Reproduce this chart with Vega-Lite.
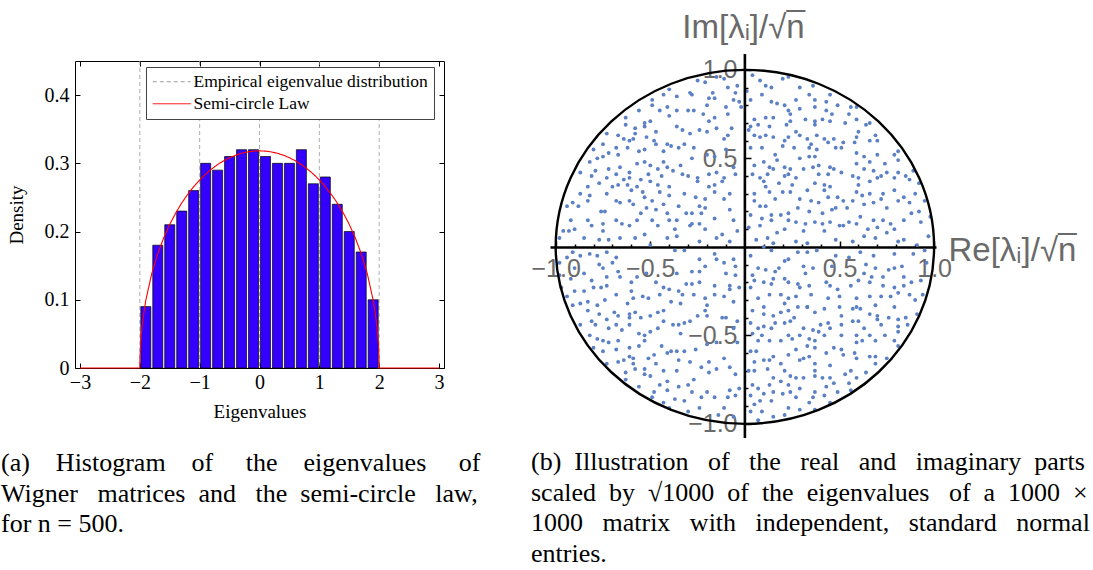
{
"$schema": "https://vega.github.io/schema/vega-lite/v6.json",
"padding": {"top": 11, "left": 0, "right": 0, "bottom": 0},
"background": "white",
"bounds": "flush",
"spacing": 106,
"config": {"view": {"stroke": null}, "axis": {"labelFlush": false, "labelOverlap": false, "grid": false}},
"datasets": {
"hist": [{"center":-1.9,"density":0.09},{"center":-1.7,"density":0.18},{"center":-1.5,"density":0.21},{"center":-1.3,"density":0.23},{"center":-1.1,"density":0.26},{"center":-0.9,"density":0.30},{"center":-0.7,"density":0.29},{"center":-0.5,"density":0.31},{"center":-0.3,"density":0.32},{"center":-0.1,"density":0.32},{"center":0.1,"density":0.31},{"center":0.3,"density":0.30},{"center":0.5,"density":0.30},{"center":0.7,"density":0.32},{"center":0.9,"density":0.27},{"center":1.1,"density":0.28},{"center":1.3,"density":0.24},{"center":1.5,"density":0.20},{"center":1.7,"density":0.17},{"center":1.9,"density":0.10}],
"grid": [{"x":-2,"series":"Empirical eigenvalue distribution"},{"x":-1,"series":"Empirical eigenvalue distribution"},{"x":0,"series":"Empirical eigenvalue distribution"},{"x":1,"series":"Empirical eigenvalue distribution"},{"x":2,"series":"Empirical eigenvalue distribution"}],
"semicircle": [{"x":-3,"y":0,"series":"Semi-circle Law"},{"x":-2,"y":0,"series":"Semi-circle Law"},{"x":-1.999,"y":0.0101,"series":"Semi-circle Law"},{"x":-1.99,"y":0.0318,"series":"Semi-circle Law"},{"x":-1.97,"y":0.0549,"series":"Semi-circle Law"},{"x":-1.95,"y":0.0707,"series":"Semi-circle Law"},{"x":-1.9,"y":0.0994,"series":"Semi-circle Law"},{"x":-1.8,"y":0.1387,"series":"Semi-circle Law"},{"x":-1.7,"y":0.1677,"series":"Semi-circle Law"},{"x":-1.6,"y":0.1910,"series":"Semi-circle Law"},{"x":-1.5,"y":0.2105,"series":"Semi-circle Law"},{"x":-1.4,"y":0.2273,"series":"Semi-circle Law"},{"x":-1.3,"y":0.2419,"series":"Semi-circle Law"},{"x":-1.2,"y":0.2546,"series":"Semi-circle Law"},{"x":-1.1,"y":0.2658,"series":"Semi-circle Law"},{"x":-1.0,"y":0.2757,"series":"Semi-circle Law"},{"x":-0.9,"y":0.2843,"series":"Semi-circle Law"},{"x":-0.8,"y":0.2917,"series":"Semi-circle Law"},{"x":-0.7,"y":0.2982,"series":"Semi-circle Law"},{"x":-0.6,"y":0.3037,"series":"Semi-circle Law"},{"x":-0.5,"y":0.3082,"series":"Semi-circle Law"},{"x":-0.4,"y":0.3119,"series":"Semi-circle Law"},{"x":-0.3,"y":0.3147,"series":"Semi-circle Law"},{"x":-0.2,"y":0.3167,"series":"Semi-circle Law"},{"x":-0.1,"y":0.3179,"series":"Semi-circle Law"},{"x":0,"y":0.3183,"series":"Semi-circle Law"},{"x":0.1,"y":0.3179,"series":"Semi-circle Law"},{"x":0.2,"y":0.3167,"series":"Semi-circle Law"},{"x":0.3,"y":0.3147,"series":"Semi-circle Law"},{"x":0.4,"y":0.3119,"series":"Semi-circle Law"},{"x":0.5,"y":0.3082,"series":"Semi-circle Law"},{"x":0.6,"y":0.3037,"series":"Semi-circle Law"},{"x":0.7,"y":0.2982,"series":"Semi-circle Law"},{"x":0.8,"y":0.2917,"series":"Semi-circle Law"},{"x":0.9,"y":0.2843,"series":"Semi-circle Law"},{"x":1.0,"y":0.2757,"series":"Semi-circle Law"},{"x":1.1,"y":0.2658,"series":"Semi-circle Law"},{"x":1.2,"y":0.2546,"series":"Semi-circle Law"},{"x":1.3,"y":0.2419,"series":"Semi-circle Law"},{"x":1.4,"y":0.2273,"series":"Semi-circle Law"},{"x":1.5,"y":0.2105,"series":"Semi-circle Law"},{"x":1.6,"y":0.1910,"series":"Semi-circle Law"},{"x":1.7,"y":0.1677,"series":"Semi-circle Law"},{"x":1.8,"y":0.1387,"series":"Semi-circle Law"},{"x":1.9,"y":0.0994,"series":"Semi-circle Law"},{"x":1.95,"y":0.0707,"series":"Semi-circle Law"},{"x":1.97,"y":0.0549,"series":"Semi-circle Law"},{"x":1.99,"y":0.0318,"series":"Semi-circle Law"},{"x":1.999,"y":0.0101,"series":"Semi-circle Law"},{"x":2,"y":0,"series":"Semi-circle Law"},{"x":3,"y":0,"series":"Semi-circle Law"}],
"circle": [{"re":0,"im":0}],
"vaxis": [{"re":0,"lo":-1.08,"hi":1.09}],
"eig": [
{"re":-0.49,"im":0.83},{"re":-0.43,"im":0.86},{"re":-0.40,"im":0.89},{"re":-0.49,"im":0.80},{"re":-0.45,"im":0.77},{"re":-0.41,"im":0.79},{"re":-0.40,"im":0.74},{"re":-0.56,"im":0.77},{"re":-0.63,"im":0.73},{"re":-0.53,"im":0.70},{"re":-0.53,"im":0.68},{"re":-0.50,"im":0.71},{"re":-0.47,"im":0.65},{"re":-0.58,"im":0.67},{"re":-0.58,"im":0.64},{"re":-0.63,"im":0.69},{"re":-0.73,"im":0.64},{"re":-0.67,"im":0.63},{"re":-0.64,"im":0.61},{"re":-0.61,"im":0.60},{"re":-0.59,"im":0.61},{"re":-0.52,"im":0.62},{"re":-0.48,"im":0.60},{"re":-0.47,"im":0.58},{"re":-0.41,"im":0.58},{"re":-0.39,"im":0.57},{"re":-0.68,"im":0.56},{"re":-0.62,"im":0.56},{"re":-0.56,"im":0.54},{"re":-0.53,"im":0.55},{"re":-0.75,"im":0.58},{"re":-0.80,"im":0.55},{"re":-0.72,"im":0.53},{"re":-0.75,"im":0.51},{"re":-0.78,"im":0.50},{"re":-0.67,"im":0.52},{"re":-0.57,"im":0.47},{"re":-0.53,"im":0.48},{"re":-0.50,"im":0.46},{"re":-0.43,"im":0.54},{"re":-0.43,"im":0.48},{"re":-0.46,"im":0.44},{"re":-0.41,"im":0.45},{"re":-0.38,"im":0.43},{"re":-0.82,"im":0.48},{"re":-0.87,"im":0.42},{"re":-0.79,"im":0.43},{"re":-0.72,"im":0.44},{"re":-0.66,"im":0.45},{"re":-0.68,"im":0.41},{"re":-0.73,"im":0.39},{"re":-0.81,"im":0.40},{"re":-0.64,"im":0.38},{"re":-0.61,"im":0.42},{"re":-0.61,"im":0.39},{"re":-0.55,"im":0.38},{"re":-0.51,"im":0.41},{"re":-0.50,"im":0.37},{"re":-0.44,"im":0.40},{"re":-0.62,"im":0.35},{"re":-0.67,"im":0.35},{"re":-0.70,"im":0.34},{"re":-0.77,"im":0.36},{"re":-0.83,"im":0.34},{"re":-0.57,"im":0.34},{"re":-0.46,"im":0.35},{"re":-0.40,"im":0.34},
{"re":-0.25,"im":0.94},{"re":-0.21,"im":0.93},{"re":-0.15,"im":0.96},{"re":-0.11,"im":0.95},{"re":-0.09,"im":0.90},{"re":-0.04,"im":0.91},{"re":-0.05,"im":0.87},{"re":-0.06,"im":0.83},{"re":-0.03,"im":0.82},{"re":-0.02,"im":0.79},{"re":-0.36,"im":0.85},{"re":-0.29,"im":0.87},{"re":-0.28,"im":0.86},{"re":-0.17,"im":0.87},{"re":-0.19,"im":0.84},{"re":-0.16,"im":0.84},{"re":-0.20,"im":0.80},{"re":-0.36,"im":0.77},{"re":-0.30,"im":0.77},{"re":-0.27,"im":0.77},{"re":-0.10,"im":0.79},{"re":-0.09,"im":0.75},{"re":-0.22,"im":0.75},{"re":-0.16,"im":0.73},{"re":-0.19,"im":0.71},{"re":-0.36,"im":0.68},{"re":-0.33,"im":0.66},{"re":-0.29,"im":0.64},{"re":-0.24,"im":0.66},{"re":-0.20,"im":0.65},{"re":-0.15,"im":0.67},{"re":-0.07,"im":0.67},{"re":-0.09,"im":0.63},{"re":-0.11,"im":0.61},{"re":-0.10,"im":0.55},{"re":-0.32,"im":0.58},{"re":-0.35,"im":0.56},{"re":-0.27,"im":0.56},{"re":-0.20,"im":0.52},{"re":-0.16,"im":0.51},{"re":-0.28,"im":0.50},{"re":-0.34,"im":0.46},{"re":-0.33,"im":0.41},{"re":-0.30,"im":0.40},{"re":-0.25,"im":0.39},{"re":-0.19,"im":0.41},{"re":-0.15,"im":0.42},{"re":-0.11,"im":0.39},{"re":-0.12,"im":0.37},{"re":-0.16,"im":0.35},{"re":-0.19,"im":0.34},{"re":-0.25,"im":0.37},{"re":-0.05,"im":0.41},{"re":-0.06,"im":0.45},
{"re":0.04,"im":0.97},{"re":0.08,"im":0.94},{"re":0.11,"im":0.91},{"re":0.14,"im":0.90},{"re":0.20,"im":0.95},{"re":0.23,"im":0.96},{"re":0.01,"im":0.88},{"re":0.03,"im":0.83},{"re":0.09,"im":0.86},{"re":0.14,"im":0.82},{"re":0.17,"im":0.81},{"re":0.21,"im":0.80},{"re":0.23,"im":0.77},{"re":0.24,"im":0.75},{"re":0.15,"im":0.73},{"re":0.05,"im":0.72},{"re":0.11,"im":0.73},{"re":0.07,"im":0.69},{"re":0.03,"im":0.68},{"re":0.02,"im":0.66},{"re":0.13,"im":0.68},{"re":0.22,"im":0.69},{"re":0.24,"im":0.71},{"re":0.05,"im":0.63},{"re":0.08,"im":0.62},{"re":0.11,"im":0.63},{"re":0.15,"im":0.62},{"re":0.21,"im":0.60},{"re":0.23,"im":0.62},{"re":0.20,"im":0.57},{"re":0.03,"im":0.56},{"re":0.09,"im":0.56},{"re":0.16,"im":0.52},{"re":0.17,"im":0.49},{"re":0.10,"im":0.48},{"re":0.05,"im":0.46},{"re":0.13,"im":0.45},{"re":0.15,"im":0.44},{"re":0.21,"im":0.45},{"re":0.24,"im":0.44},{"re":0.23,"im":0.41},{"re":0.21,"im":0.40},{"re":0.12,"im":0.41},{"re":0.08,"im":0.39},{"re":0.04,"im":0.41},{"re":0.10,"im":0.37},{"re":0.11,"im":0.34},{"re":0.18,"im":0.36},{"re":0.25,"im":0.35},
{"re":0.29,"im":0.90},{"re":0.36,"im":0.91},{"re":0.34,"im":0.86},{"re":0.27,"im":0.83},{"re":0.37,"im":0.83},{"re":0.37,"im":0.79},{"re":0.29,"im":0.78},{"re":0.43,"im":0.82},{"re":0.45,"im":0.86},{"re":0.49,"im":0.80},{"re":0.43,"im":0.77},{"re":0.46,"im":0.75},{"re":0.32,"im":0.72},{"re":0.37,"im":0.71},{"re":0.37,"im":0.69},{"re":0.41,"im":0.72},{"re":0.45,"im":0.71},{"re":0.53,"im":0.70},{"re":0.55,"im":0.75},{"re":0.56,"im":0.79},{"re":0.59,"im":0.72},{"re":0.59,"im":0.79},{"re":0.64,"im":0.69},{"re":0.66,"im":0.70},{"re":0.27,"im":0.65},{"re":0.29,"im":0.63},{"re":0.33,"im":0.61},{"re":0.38,"im":0.63},{"re":0.42,"im":0.61},{"re":0.47,"im":0.61},{"re":0.52,"im":0.59},{"re":0.59,"im":0.62},{"re":0.60,"im":0.65},{"re":0.69,"im":0.63},{"re":0.66,"im":0.60},{"re":0.70,"im":0.60},{"re":0.35,"im":0.58},{"re":0.34,"im":0.56},{"re":0.38,"im":0.55},{"re":0.44,"im":0.59},{"re":0.48,"im":0.56},{"re":0.51,"im":0.56},{"re":0.58,"im":0.59},{"re":0.26,"im":0.56},{"re":0.59,"im":0.53},{"re":0.63,"im":0.51},{"re":0.70,"im":0.52},{"re":0.66,"im":0.48},{"re":0.79,"im":0.52},{"re":0.81,"im":0.54},{"re":0.81,"im":0.49},{"re":0.74,"im":0.47},{"re":0.75,"im":0.42},{"re":0.29,"im":0.50},{"re":0.34,"im":0.51},{"re":0.37,"im":0.51},{"re":0.39,"im":0.46},{"re":0.45,"im":0.45},{"re":0.47,"im":0.44},{"re":0.31,"im":0.44},{"re":0.36,"im":0.45},{"re":0.59,"im":0.47},{"re":0.63,"im":0.44},{"re":0.68,"im":0.43},{"re":0.51,"im":0.42},{"re":0.57,"im":0.40},{"re":0.60,"im":0.39},{"re":0.72,"im":0.40},{"re":0.79,"im":0.39},{"re":0.81,"im":0.42},{"re":0.85,"im":0.40},{"re":0.87,"im":0.38},{"re":0.44,"im":0.41},{"re":0.39,"im":0.41},{"re":0.37,"im":0.36},{"re":0.27,"im":0.39},{"re":0.42,"im":0.35},{"re":0.45,"im":0.34},{"re":0.60,"im":0.35},{"re":0.66,"im":0.37},{"re":0.70,"im":0.39},
{"re":-0.87,"im":0.30},{"re":-0.82,"im":0.29},{"re":-0.73,"im":0.30},{"re":-0.68,"im":0.26},{"re":-0.60,"im":0.32},{"re":-0.54,"im":0.31},{"re":-0.53,"im":0.28},{"re":-0.45,"im":0.31},{"re":-0.40,"im":0.29},{"re":-0.94,"im":0.23},{"re":-0.91,"im":0.25},{"re":-0.88,"im":0.23},{"re":-0.83,"im":0.26},{"re":-0.76,"im":0.20},{"re":-0.74,"im":0.20},{"re":-0.66,"im":0.25},{"re":-0.61,"im":0.26},{"re":-0.59,"im":0.24},{"re":-0.55,"im":0.19},{"re":-0.52,"im":0.22},{"re":-0.49,"im":0.26},{"re":-0.47,"im":0.21},{"re":-0.43,"im":0.24},{"re":-0.41,"im":0.19},{"re":-0.92,"im":0.15},{"re":-0.90,"im":0.10},{"re":-0.83,"im":0.15},{"re":-0.81,"im":0.12},{"re":-0.75,"im":0.13},{"re":-0.75,"im":0.09},{"re":-0.68,"im":0.15},{"re":-0.65,"im":0.13},{"re":-0.61,"im":0.12},{"re":-0.57,"im":0.15},{"re":-0.49,"im":0.15},{"re":-0.46,"im":0.12},{"re":-0.40,"im":0.15},{"re":-0.96,"im":0.09},{"re":-0.93,"im":0.09},{"re":-0.85,"im":0.05},{"re":-0.77,"im":0.04},{"re":-0.72,"im":0.04},{"re":-0.66,"im":0.05},{"re":-0.58,"im":0.05},{"re":-0.53,"im":0.07},{"re":-0.50,"im":0.01},{"re":-0.41,"im":0.05},{"re":-0.98,"im":0.05},
{"re":-0.91,"im":-0.03},{"re":-0.87,"im":-0.05},{"re":-0.82,"im":-0.04},{"re":-0.78,"im":-0.05},{"re":-0.73,"im":-0.03},{"re":-0.98,"im":-0.09},{"re":-0.94,"im":-0.06},{"re":-0.90,"im":-0.12},{"re":-0.77,"im":-0.10},{"re":-0.75,"im":-0.12},{"re":-0.73,"im":-0.17},{"re":-0.70,"im":-0.09},{"re":-0.68,"im":-0.06},{"re":-0.67,"im":-0.14},{"re":-0.98,"im":-0.16},{"re":-0.92,"im":-0.18},{"re":-0.85,"im":-0.15},{"re":-0.81,"im":-0.19},{"re":-0.76,"im":-0.23},{"re":-0.73,"im":-0.22},{"re":-0.66,"im":-0.17},{"re":-0.60,"im":-0.20},{"re":-0.57,"im":-0.17},{"re":-0.52,"im":-0.15},{"re":-0.47,"im":-0.20},{"re":-0.43,"im":-0.23},{"re":-0.40,"im":-0.24},{"re":-0.97,"im":-0.23},{"re":-0.94,"im":-0.28},{"re":-0.90,"im":-0.25},{"re":-0.85,"im":-0.25},{"re":-0.80,"im":-0.23},{"re":-0.87,"im":-0.32},{"re":-0.83,"im":-0.31},{"re":-0.78,"im":-0.33},{"re":-0.74,"im":-0.30},{"re":-0.68,"im":-0.27},{"re":-0.60,"im":-0.25},{"re":-0.59,"im":-0.29},{"re":-0.54,"im":-0.28},{"re":-0.51,"im":-0.29},{"re":-0.45,"im":-0.27},{"re":-0.39,"im":-0.31},{"re":-0.91,"im":-0.33},{"re":-0.62,"im":-0.32},
{"re":-0.32,"im":0.30},{"re":-0.26,"im":0.28},{"re":-0.21,"im":0.27},{"re":-0.16,"im":0.31},{"re":-0.08,"im":0.30},{"re":-0.11,"im":0.27},{"re":-0.35,"im":0.23},{"re":-0.31,"im":0.19},{"re":-0.28,"im":0.19},{"re":-0.24,"im":0.23},{"re":-0.21,"im":0.22},{"re":-0.23,"im":0.19},{"re":-0.36,"im":0.15},{"re":-0.28,"im":0.13},{"re":-0.24,"im":0.13},{"re":-0.16,"im":0.16},{"re":-0.08,"im":0.21},{"re":-0.06,"im":0.15},{"re":-0.04,"im":0.09},{"re":-0.37,"im":0.10},{"re":-0.29,"im":0.12},{"re":-0.21,"im":0.10},{"re":-0.12,"im":0.07},{"re":-0.15,"im":0.05},{"re":-0.24,"im":0.03},{"re":-0.36,"im":0.06},{"re":-0.08,"im":0.03},{"re":-0.37,"im":-0.02},{"re":-0.32,"im":-0.02},{"re":-0.24,"im":-0.07},{"re":-0.16,"im":-0.04},{"re":-0.15,"im":-0.07},{"re":-0.06,"im":-0.07},{"re":-0.11,"im":-0.09},{"re":-0.05,"im":-0.11},{"re":-0.28,"im":-0.14},{"re":-0.24,"im":-0.14},{"re":-0.21,"im":-0.11},{"re":-0.36,"im":-0.15},{"re":-0.10,"im":-0.15},{"re":-0.05,"im":-0.16},{"re":-0.31,"im":-0.21},{"re":-0.28,"im":-0.21},{"re":-0.24,"im":-0.20},{"re":-0.16,"im":-0.22},{"re":-0.08,"im":-0.22},{"re":-0.08,"im":-0.24},{"re":-0.03,"im":-0.23},{"re":-0.35,"im":-0.25},{"re":-0.33,"im":-0.27},{"re":-0.27,"im":-0.27},{"re":-0.21,"im":-0.29},{"re":-0.16,"im":-0.27},{"re":-0.11,"im":-0.28},{"re":-0.06,"im":-0.31},{"re":-0.20,"im":-0.33},{"re":-0.34,"im":-0.32},
{"re":0.05,"im":0.30},{"re":0.13,"im":0.31},{"re":0.16,"im":0.27},{"re":0.20,"im":0.31},{"re":0.24,"im":0.31},{"re":0.05,"im":0.26},{"re":0.08,"im":0.23},{"re":0.11,"im":0.23},{"re":0.14,"im":0.18},{"re":0.19,"im":0.18},{"re":0.23,"im":0.19},{"re":0.09,"im":0.16},{"re":0.03,"im":0.18},{"re":0.14,"im":0.15},{"re":0.23,"im":0.15},{"re":0.21,"im":0.10},{"re":0.17,"im":0.08},{"re":0.12,"im":0.05},{"re":0.06,"im":0.04},{"re":0.02,"im":0.11},{"re":0.08,"im":0.12},{"re":0.14,"im":-0.02},{"re":0.15,"im":0.02},{"re":0.03,"im":-0.05},{"re":0.10,"im":0.00},{"re":0.21,"im":-0.08},{"re":0.23,"im":-0.07},{"re":0.18,"im":-0.12},{"re":0.07,"im":-0.12},{"re":0.11,"im":-0.13},{"re":0.16,"im":-0.14},{"re":0.04,"im":-0.16},{"re":0.15,"im":-0.18},{"re":0.05,"im":-0.19},{"re":0.10,"im":-0.20},{"re":0.14,"im":-0.21},{"re":0.21,"im":-0.18},{"re":0.23,"im":-0.20},{"re":0.03,"im":-0.23},{"re":0.07,"im":-0.29},{"re":0.13,"im":-0.27},{"re":0.19,"im":-0.27},{"re":0.23,"im":-0.29},{"re":0.10,"im":-0.34},{"re":0.21,"im":-0.32},
{"re":0.33,"im":0.32},{"re":0.42,"im":0.32},{"re":0.59,"im":0.31},{"re":0.62,"im":0.29},{"re":0.66,"im":0.30},{"re":0.73,"im":0.30},{"re":0.79,"im":0.32},{"re":0.84,"im":0.28},{"re":0.29,"im":0.27},{"re":0.35,"im":0.26},{"re":0.39,"im":0.25},{"re":0.44,"im":0.28},{"re":0.49,"im":0.28},{"re":0.52,"im":0.26},{"re":0.54,"im":0.22},{"re":0.57,"im":0.26},{"re":0.63,"im":0.24},{"re":0.68,"im":0.25},{"re":0.72,"im":0.27},{"re":0.75,"im":0.22},{"re":0.81,"im":0.26},{"re":0.87,"im":0.25},{"re":0.28,"im":0.22},{"re":0.34,"im":0.20},{"re":0.41,"im":0.19},{"re":0.46,"im":0.21},{"re":0.48,"im":0.22},{"re":0.61,"im":0.17},{"re":0.68,"im":0.15},{"re":0.73,"im":0.15},{"re":0.77,"im":0.13},{"re":0.84,"im":0.15},{"re":0.88,"im":0.19},{"re":0.27,"im":0.14},{"re":0.32,"im":0.13},{"re":0.37,"im":0.14},{"re":0.41,"im":0.13},{"re":0.45,"im":0.14},{"re":0.52,"im":0.12},{"re":0.55,"im":0.14},{"re":0.59,"im":0.13},{"re":0.65,"im":0.10},{"re":0.70,"im":0.11},{"re":0.75,"im":0.08},{"re":0.79,"im":0.10},{"re":0.31,"im":0.09},{"re":0.42,"im":0.09},{"re":0.50,"im":0.12},{"re":0.48,"im":0.04},{"re":0.27,"im":0.03},{"re":0.33,"im":0.02},{"re":0.57,"im":0.03},{"re":0.63,"im":0.06},{"re":0.69,"im":0.05},{"re":0.81,"im":0.03},{"re":0.84,"im":0.04},
{"re":0.28,"im":-0.03},{"re":0.33,"im":-0.03},{"re":0.38,"im":-0.02},{"re":0.48,"im":-0.05},{"re":0.55,"im":-0.06},{"re":0.61,"im":-0.03},{"re":0.68,"im":-0.05},{"re":0.79,"im":-0.04},{"re":0.89,"im":-0.04},{"re":0.31,"im":-0.11},{"re":0.36,"im":-0.12},{"re":0.46,"im":-0.11},{"re":0.64,"im":-0.10},{"re":0.69,"im":-0.12},{"re":0.76,"im":-0.13},{"re":0.79,"im":-0.12},{"re":0.83,"im":-0.11},{"re":0.32,"im":-0.15},{"re":0.63,"im":-0.15},{"re":0.67,"im":-0.17},{"re":0.73,"im":-0.17},{"re":0.84,"im":-0.17},{"re":0.28,"im":-0.21},{"re":0.29,"im":-0.23},{"re":0.34,"im":-0.22},{"re":0.43,"im":-0.20},{"re":0.45,"im":-0.22},{"re":0.49,"im":-0.24},{"re":0.56,"im":-0.22},{"re":0.60,"im":-0.19},{"re":0.66,"im":-0.20},{"re":0.73,"im":-0.22},{"re":0.79,"im":-0.23},{"re":0.84,"im":-0.22},{"re":0.88,"im":-0.20},{"re":0.27,"im":-0.28},{"re":0.35,"im":-0.27},{"re":0.44,"im":-0.29},{"re":0.50,"im":-0.28},{"re":0.59,"im":-0.29},{"re":0.66,"im":-0.28},{"re":0.72,"im":-0.28},{"re":0.77,"im":-0.28},{"re":0.81,"im":-0.26},{"re":0.87,"im":-0.27},{"re":0.28,"im":-0.34},{"re":0.33,"im":-0.34},{"re":0.50,"im":-0.34},{"re":0.59,"im":-0.34},{"re":0.69,"im":-0.33},{"re":0.79,"im":-0.34},
{"re":0.92,"im":0.36},{"re":0.95,"im":0.26},{"re":0.93,"im":0.14},{"re":0.97,"im":0.06},{"re":0.91,"im":0.01},{"re":0.96,"im":-0.09},{"re":0.93,"im":-0.19},{"re":0.90,"im":-0.30},{"re":0.94,"im":-0.27},{"re":0.90,"im":0.30},{"re":0.98,"im":0.17},{"re":0.91,"im":-0.38},{"re":0.92,"im":0.20},{"re":0.95,"im":-0.02},{"re":0.89,"im":0.43},
{"re":-0.83,"im":-0.36},{"re":-0.77,"im":-0.38},{"re":-0.69,"im":-0.37},{"re":-0.67,"im":-0.39},{"re":-0.61,"im":-0.38},{"re":-0.58,"im":-0.37},{"re":-0.55,"im":-0.40},{"re":-0.50,"im":-0.39},{"re":-0.46,"im":-0.37},{"re":-0.43,"im":-0.36},{"re":-0.87,"im":-0.44},{"re":-0.81,"im":-0.42},{"re":-0.79,"im":-0.44},{"re":-0.73,"im":-0.41},{"re":-0.72,"im":-0.46},{"re":-0.68,"im":-0.44},{"re":-0.65,"im":-0.47},{"re":-0.61,"im":-0.40},{"re":-0.61,"im":-0.44},{"re":-0.56,"im":-0.49},{"re":-0.53,"im":-0.50},{"re":-0.50,"im":-0.48},{"re":-0.46,"im":-0.46},{"re":-0.43,"im":-0.42},{"re":-0.38,"im":-0.44},{"re":-0.82,"im":-0.50},{"re":-0.78,"im":-0.52},{"re":-0.75,"im":-0.53},{"re":-0.72,"im":-0.54},{"re":-0.67,"im":-0.53},{"re":-0.61,"im":-0.57},{"re":-0.56,"im":-0.56},{"re":-0.53,"im":-0.53},{"re":-0.48,"im":-0.61},{"re":-0.51,"im":-0.63},{"re":-0.44,"im":-0.56},{"re":-0.41,"im":-0.60},{"re":-0.39,"im":-0.59},{"re":-0.80,"im":-0.57},{"re":-0.75,"im":-0.59},{"re":-0.68,"im":-0.58},{"re":-0.67,"im":-0.65},{"re":-0.64,"im":-0.64},{"re":-0.61,"im":-0.62},{"re":-0.59,"im":-0.63},{"re":-0.59,"im":-0.66},{"re":-0.58,"im":-0.69},{"re":-0.53,"im":-0.69},{"re":-0.53,"im":-0.72},{"re":-0.50,"im":-0.73},{"re":-0.47,"im":-0.66},{"re":-0.43,"im":-0.70},{"re":-0.73,"im":-0.66},{"re":-0.63,"im":-0.71},{"re":-0.63,"im":-0.75},{"re":-0.56,"im":-0.79},{"re":-0.45,"im":-0.78},{"re":-0.41,"im":-0.76},{"re":-0.41,"im":-0.81},{"re":-0.48,"im":-0.82},{"re":-0.49,"im":-0.85},{"re":-0.43,"im":-0.88},{"re":-0.40,"im":-0.91},
{"re":-0.35,"im":-0.44},{"re":-0.32,"im":-0.43},{"re":-0.29,"im":-0.42},{"re":-0.25,"im":-0.39},{"re":-0.21,"im":-0.36},{"re":-0.20,"im":-0.39},{"re":-0.12,"im":-0.40},{"re":-0.10,"im":-0.40},{"re":-0.04,"im":-0.42},{"re":-0.06,"im":-0.46},{"re":-0.04,"im":-0.54},{"re":-0.34,"im":-0.49},{"re":-0.36,"im":-0.59},{"re":-0.32,"im":-0.59},{"re":-0.29,"im":-0.65},{"re":-0.35,"im":-0.64},{"re":-0.26,"im":-0.58},{"re":-0.20,"im":-0.55},{"re":-0.15,"im":-0.54},{"re":-0.11,"im":-0.63},{"re":-0.19,"im":-0.65},{"re":-0.23,"im":-0.68},{"re":-0.15,"im":-0.69},{"re":-0.08,"im":-0.68},{"re":-0.19,"im":-0.71},{"re":-0.05,"im":-0.72},{"re":-0.36,"im":-0.70},{"re":-0.27,"im":-0.75},{"re":-0.35,"im":-0.79},{"re":-0.30,"im":-0.78},{"re":-0.28,"im":-0.82},{"re":-0.20,"im":-0.82},{"re":-0.16,"im":-0.85},{"re":-0.08,"im":-0.81},{"re":-0.09,"im":-0.85},{"re":-0.05,"im":-0.84},{"re":-0.03,"im":-0.80},{"re":-0.37,"im":-0.86},{"re":-0.32,"im":-0.87},{"re":-0.23,"im":-0.85},{"re":-0.24,"im":-0.91},{"re":-0.11,"im":-0.91},{"re":-0.14,"im":-0.95},{"re":-0.30,"im":-0.93},{"re":-0.06,"im":-0.96},
{"re":0.04,"im":-0.36},{"re":0.10,"im":-0.38},{"re":0.15,"im":-0.39},{"re":0.19,"im":-0.37},{"re":0.23,"im":-0.36},{"re":0.03,"im":-0.43},{"re":0.07,"im":-0.46},{"re":0.10,"im":-0.45},{"re":0.14,"im":-0.46},{"re":0.16,"im":-0.43},{"re":0.21,"im":-0.43},{"re":0.24,"im":-0.42},{"re":0.04,"im":-0.49},{"re":0.07,"im":-0.53},{"re":0.09,"im":-0.50},{"re":0.13,"im":-0.53},{"re":0.19,"im":-0.53},{"re":0.23,"im":-0.50},{"re":0.25,"im":-0.52},{"re":0.03,"im":-0.59},{"re":0.06,"im":-0.59},{"re":0.10,"im":-0.64},{"re":0.13,"im":-0.64},{"re":0.15,"im":-0.62},{"re":0.19,"im":-0.66},{"re":0.23,"im":-0.61},{"re":0.05,"im":-0.65},{"re":0.02,"im":-0.70},{"re":0.05,"im":-0.70},{"re":0.12,"im":-0.69},{"re":0.15,"im":-0.74},{"re":0.21,"im":-0.70},{"re":0.24,"im":-0.73},{"re":0.04,"im":-0.78},{"re":0.07,"im":-0.80},{"re":0.13,"im":-0.78},{"re":0.19,"im":-0.76},{"re":0.23,"im":-0.78},{"re":0.03,"im":-0.84},{"re":0.10,"im":-0.83},{"re":0.15,"im":-0.82},{"re":0.20,"im":-0.83},{"re":0.24,"im":-0.82},{"re":0.05,"im":-0.89},{"re":0.08,"im":-0.87},{"re":0.14,"im":-0.87},{"re":0.03,"im":-0.93},{"re":0.09,"im":-0.93},{"re":0.15,"im":-0.96},{"re":0.21,"im":-0.95},{"re":0.23,"im":-0.91},{"re":0.07,"im":-0.98},
{"re":0.33,"im":-0.34},{"re":0.42,"im":-0.35},{"re":0.37,"im":-0.37},{"re":0.51,"im":-0.39},{"re":0.57,"im":-0.35},{"re":0.61,"im":-0.35},{"re":0.66,"im":-0.38},{"re":0.70,"im":-0.39},{"re":0.76,"im":-0.40},{"re":0.81,"im":-0.41},{"re":0.85,"im":-0.40},{"re":0.26,"im":-0.40},{"re":0.31,"im":-0.46},{"re":0.36,"im":-0.47},{"re":0.39,"im":-0.48},{"re":0.40,"im":-0.44},{"re":0.44,"im":-0.43},{"re":0.45,"im":-0.46},{"re":0.51,"im":-0.44},{"re":0.57,"im":-0.42},{"re":0.60,"im":-0.42},{"re":0.63,"im":-0.46},{"re":0.70,"im":-0.41},{"re":0.72,"im":-0.44},{"re":0.81,"im":-0.45},{"re":0.86,"im":-0.44},{"re":0.29,"im":-0.50},{"re":0.34,"im":-0.52},{"re":0.37,"im":-0.53},{"re":0.42,"im":-0.50},{"re":0.51,"im":-0.50},{"re":0.59,"im":-0.50},{"re":0.62,"im":-0.53},{"re":0.59,"im":-0.54},{"re":0.66,"im":-0.50},{"re":0.69,"im":-0.53},{"re":0.74,"im":-0.50},{"re":0.79,"im":-0.53},{"re":0.81,"im":-0.48},{"re":0.81,"im":-0.56},{"re":0.27,"im":-0.58},{"re":0.33,"im":-0.56},{"re":0.37,"im":-0.57},{"re":0.43,"im":-0.60},{"re":0.47,"im":-0.57},{"re":0.51,"im":-0.58},{"re":0.52,"im":-0.61},{"re":0.58,"im":-0.60},{"re":0.59,"im":-0.63},{"re":0.66,"im":-0.62},{"re":0.69,"im":-0.62},{"re":0.69,"im":-0.66},{"re":0.75,"im":-0.63},{"re":0.31,"im":-0.63},{"re":0.37,"im":-0.66},{"re":0.34,"im":-0.62},{"re":0.29,"im":-0.64},{"re":0.45,"im":-0.67},{"re":0.53,"im":-0.72},{"re":0.56,"im":-0.70},{"re":0.59,"im":-0.74},{"re":0.64,"im":-0.71},{"re":0.27,"im":-0.74},{"re":0.31,"im":-0.74},{"re":0.37,"im":-0.70},{"re":0.37,"im":-0.73},{"re":0.41,"im":-0.74},{"re":0.45,"im":-0.74},{"re":0.43,"im":-0.79},{"re":0.47,"im":-0.77},{"re":0.55,"im":-0.77},{"re":0.56,"im":-0.81},{"re":0.29,"im":-0.80},{"re":0.37,"im":-0.82},{"re":0.34,"im":-0.88},{"re":0.36,"im":-0.85},{"re":0.42,"im":-0.84},{"re":0.49,"im":-0.82},{"re":0.45,"im":-0.88},{"re":0.27,"im":-0.85},{"re":0.29,"im":-0.92},{"re":0.37,"im":-0.92}
]
},
"hconcat": [
{
"width": 369,
"height": 307,
"view": {"stroke": "black", "strokeWidth": 1},
"title": {"text": ["(a)\u00a0\u00a0\u00a0\u00a0Histogram\u00a0\u00a0\u00a0\u00a0of\u00a0\u00a0\u00a0\u00a0\u00a0the\u00a0\u00a0\u00a0\u00a0eigenvalues\u00a0\u00a0\u00a0\u00a0\u00a0of", "Wigner\u00a0\u00a0\u00a0matrices\u00a0\u00a0and\u00a0\u00a0\u00a0the\u00a0\u00a0semi-circle\u00a0\u00a0\u00a0law,", "for n = 500."], "orient": "bottom", "anchor": "start", "frame": "group", "dx": -74, "offset": 29, "font": "Liberation Serif", "fontSize": 26, "fontWeight": "normal", "color": "black", "lineHeight": 30.5},
"resolve": {"axis": {"x": "independent", "y": "independent"}},
"layer": [
{"data": {"name": "grid"}, "mark": {"type": "rule", "strokeWidth": 0.8},
 "encoding": {
  "x": {"field": "x", "type": "quantitative", "scale": {"domain": [-3, 3], "nice": false, "zero": false}, "axis": null},
  "color": {"field": "series", "type": "nominal", "scale": {"domain": ["Empirical eigenvalue distribution", "Semi-circle Law"], "range": ["#9a9a9a", "#ff0000"]},
   "legend": {"orient": "none", "legendX": 71, "legendY": 6, "title": null, "direction": "vertical", "symbolType": "M -2.5 0 H 2.5", "symbolSize": 231, "symbolStrokeWidth": 1, "symbolOffset": 11, "labelOffset": 13, "labelFont": "Liberation Serif", "labelFontSize": 17.5, "labelColor": "black", "labelLimit": 400, "padding": 6, "rowPadding": 3, "fillColor": "white", "strokeColor": "#444444"}},
  "strokeDash": {"field": "series", "type": "nominal", "scale": {"domain": ["Empirical eigenvalue distribution", "Semi-circle Law"], "range": [[4, 3], [1, 0]]},
   "legend": {"orient": "none", "legendX": 71, "legendY": 6, "title": null, "direction": "vertical", "symbolType": "M -2.5 0 H 2.5", "symbolSize": 231, "symbolStrokeWidth": 1, "symbolOffset": 11, "labelOffset": 13, "labelFont": "Liberation Serif", "labelFontSize": 17.5, "labelColor": "black", "labelLimit": 400, "padding": 6, "rowPadding": 3, "fillColor": "white", "strokeColor": "#444444"}}
 }},
{"data": {"name": "hist"}, "mark": {"type": "bar", "width": 10, "fill": "#3300ff", "stroke": "black", "strokeWidth": 0.7},
 "encoding": {
  "x": {"field": "center", "type": "quantitative", "scale": {"domain": [-3, 3], "nice": false, "zero": false},
   "axis": {"orient": "bottom", "values": [-3, -2, -1, 0, 1, 2, 3], "labelOverlap": false, "domain": false, "tickSize": -5, "tickColor": "black", "labelFont": "Liberation Serif", "labelFontSize": 20, "labelColor": "black", "labelPadding": 9, "title": "Eigenvalues", "titleFont": "Liberation Serif", "titleFontSize": 19, "titleFontWeight": "normal", "titleColor": "black", "titlePadding": 10}},
  "y": {"field": "density", "type": "quantitative", "scale": {"domain": [0, 0.45], "nice": false},
   "axis": {"orient": "left", "values": [0, 0.1, 0.2, 0.3, 0.4], "labelOverlap": false, "labelExpr": "datum.value == 0 ? '0' : format(datum.value, '.1f')", "domain": false, "tickSize": -5, "tickColor": "black", "labelFont": "Liberation Serif", "labelFontSize": 20, "labelColor": "black", "labelPadding": 11, "title": "Density", "titleFont": "Liberation Serif", "titleFontSize": 19, "titleFontWeight": "normal", "titleColor": "black", "titlePadding": 18}}
 }},
{"data": {"name": "semicircle"}, "mark": {"type": "line", "strokeWidth": 1.1},
 "encoding": {
  "x": {"field": "x", "type": "quantitative", "scale": {"domain": [-3, 3], "nice": false, "zero": false},
   "axis": {"orient": "top", "values": [-3, -2, -1, 0, 1, 2, 3], "domain": false, "labels": false, "tickSize": -5, "tickColor": "black", "title": null}},
  "y": {"field": "y", "type": "quantitative", "scale": {"domain": [0, 0.45], "nice": false},
   "axis": {"orient": "right", "values": [0, 0.1, 0.2, 0.3, 0.4], "domain": false, "labels": false, "tickSize": -5, "tickColor": "black", "title": null}},
  "color": {"field": "series", "type": "nominal", "scale": {"domain": ["Empirical eigenvalue distribution", "Semi-circle Law"], "range": ["#9a9a9a", "#ff0000"]},
   "legend": {"orient": "none", "legendX": 71, "legendY": 6, "title": null, "direction": "vertical", "symbolType": "M -2.5 0 H 2.5", "symbolSize": 231, "symbolStrokeWidth": 1, "symbolOffset": 11, "labelOffset": 13, "labelFont": "Liberation Serif", "labelFontSize": 17.5, "labelColor": "black", "labelLimit": 400, "padding": 6, "rowPadding": 3, "fillColor": "white", "strokeColor": "#444444"}},
  "strokeDash": {"field": "series", "type": "nominal", "scale": {"domain": ["Empirical eigenvalue distribution", "Semi-circle Law"], "range": [[4, 3], [1, 0]]},
   "legend": {"orient": "none", "legendX": 71, "legendY": 6, "title": null, "direction": "vertical", "symbolType": "M -2.5 0 H 2.5", "symbolSize": 231, "symbolStrokeWidth": 1, "symbolOffset": 11, "labelOffset": 13, "labelFont": "Liberation Serif", "labelFontSize": 17.5, "labelColor": "black", "labelLimit": 400, "padding": 6, "rowPadding": 3, "fillColor": "white", "strokeColor": "#444444"}}
 }}
]
},
{
"width": 386,
"height": 377,
"title": {"text": ["(b)\u00a0\u00a0Illustration\u00a0\u00a0\u00a0of\u00a0\u00a0\u00a0the\u00a0\u00a0\u00a0real\u00a0\u00a0\u00a0and\u00a0\u00a0\u00a0imaginary\u00a0\u00a0parts", "scaled\u00a0\u00a0by\u00a0\u00a0√1000\u00a0\u00a0of\u00a0\u00a0the\u00a0\u00a0eigenvalues\u00a0\u00a0\u00a0of\u00a0\u00a0a\u00a0\u00a01000\u00a0\u00a0×", "1000\u00a0\u00a0\u00a0matrix\u00a0\u00a0\u00a0with\u00a0\u00a0\u00a0independent,\u00a0\u00a0\u00a0standard\u00a0\u00a0\u00a0normal", "entries."], "orient": "bottom", "anchor": "start", "frame": "group", "dx": -19, "offset": 10, "font": "Liberation Serif", "fontSize": 26, "fontWeight": "normal", "color": "black", "lineHeight": 30.5},
"resolve": {"axis": {"x": "independent", "y": "independent"}},
"layer": [
{"data": {"name": "eig"}, "mark": {"type": "point", "filled": true, "size": 15, "color": "#5b80c4", "opacity": 1},
 "encoding": {
  "x": {"field": "re", "type": "quantitative", "scale": {"domain": [-1.03, 1.01], "nice": false, "zero": false},
   "axis": {"orient": "bottom", "offset": -191, "values": [-1, -0.5, 0.5, 1], "labelOverlap": false, "format": ".1f", "domain": true, "domainColor": "black", "domainWidth": 2.6, "tickSize": -6, "tickColor": "black", "tickWidth": 1.5, "labelPadding": 15, "labelFont": "Liberation Sans", "labelFontSize": 25, "labelColor": "#6a6a6a",
    "title": "Re[λᵢ]/√n̅", "titleX": 398, "titleY": 3, "titleAlign": "left", "titleBaseline": "middle", "titleAngle": 0, "titleFont": "Liberation Sans", "titleFontSize": 33, "titleFontWeight": "normal", "titleColor": "#6a6a6a"}},
  "y": {"field": "im", "type": "quantitative", "scale": {"domain": [-1.08, 1.05], "nice": false, "zero": false},
   "axis": {"orient": "left", "offset": -195, "values": [-1, -0.5, 0.5, 1], "labelOverlap": false, "format": ".1f", "domain": false, "tickSize": -6, "tickColor": "black", "tickWidth": 1.5, "labelPadding": 14, "labelFont": "Liberation Sans", "labelFontSize": 25, "labelColor": "#6a6a6a",
    "title": "Im[λᵢ]/√n̅", "titleX": -2, "titleY": -34, "titleAlign": "center", "titleBaseline": "middle", "titleAngle": 0, "titleFont": "Liberation Sans", "titleFontSize": 33, "titleFontWeight": "normal", "titleColor": "#6a6a6a"}}
 }},
{"data": {"name": "circle"}, "mark": {"type": "point", "shape": "M -1 0 A 1 0.9355 0 1 1 1 0 A 1 0.9355 0 1 1 -1 0 Z", "size": 143187, "filled": false, "stroke": "black", "strokeWidth": 2.4, "opacity": 1},
 "encoding": {
  "x": {"field": "re", "type": "quantitative", "scale": {"domain": [-1.03, 1.01], "nice": false, "zero": false},
   "axis": {"orient": "bottom", "offset": -191, "values": [-0.9, -0.8, -0.7, -0.6, -0.4, -0.3, -0.2, -0.1, 0.1, 0.2, 0.3, 0.4, 0.6, 0.7, 0.8, 0.9], "labels": false, "domain": false, "tickSize": -3, "tickColor": "black", "tickWidth": 1.5, "title": null}},
  "y": {"field": "im", "type": "quantitative", "scale": {"domain": [-1.08, 1.05], "nice": false, "zero": false},
   "axis": {"orient": "left", "offset": -195, "values": [-0.9, -0.8, -0.7, -0.6, -0.4, -0.3, -0.2, -0.1, 0.1, 0.2, 0.3, 0.4, 0.6, 0.7, 0.8, 0.9], "labels": false, "domain": false, "tickSize": -3, "tickColor": "black", "tickWidth": 1.5, "title": null}}
 }},
{"data": {"name": "vaxis"}, "mark": {"type": "rule", "stroke": "black", "strokeWidth": 2.6},
 "encoding": {"x": {"field": "re", "type": "quantitative", "axis": null}, "y": {"field": "lo", "type": "quantitative", "axis": null}, "y2": {"field": "hi"}}}
]
}
]
}
